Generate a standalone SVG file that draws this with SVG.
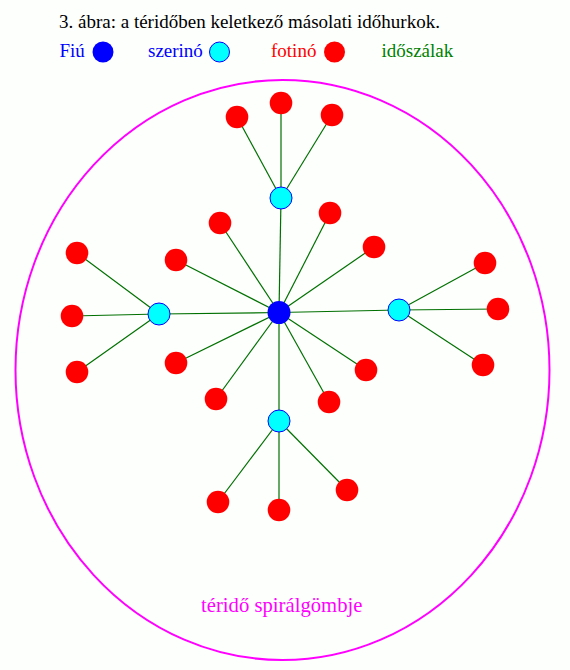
<svg xmlns="http://www.w3.org/2000/svg" width="570" height="670" viewBox="0 0 570 670">
<style>
.t{font-family:'Liberation Serif','Times New Roman','DejaVu Serif',serif;font-size:19px}
.red{fill:#ff0000}
.cyan{fill:#00ffff;stroke:#0000ff;stroke-width:1}
.blue{fill:#0000ff}
#connectors line{stroke:#007000;stroke-width:1.2}
</style>
<rect width="570" height="670" fill="#fdfffd"/>
<text class="t" x="59" y="28" fill="#000">3. ábra: a téridőben keletkező másolati időhurkok.</text>
<g id="legend">
<text class="t" x="59.5" y="57" fill="#0000ff">Fiú</text>
<circle cx="103" cy="52" r="10.5" class="blue"/>
<text class="t" x="148" y="57" fill="#0000ff">szerinó</text>
<circle cx="219.5" cy="52" r="10" class="cyan"/>
<text class="t" x="271" y="57" fill="#ff0000">fotinó</text>
<circle cx="334.5" cy="52" r="10.5" class="red"/>
<text class="t" x="381.5" y="57" fill="#008000">időszálak</text>
</g>
<g id="sphere">
<ellipse cx="282.5" cy="370" rx="267" ry="290" fill="none" stroke="#ff00ff" stroke-width="2"/>
<text class="t" x="201" y="612" fill="#ff00ff" style="font-size:20.7px">téridő spirálgömbje</text>
</g>
<g id="connectors">
<line x1="279" y1="312.5" x2="281" y2="198"/>
<line x1="279" y1="312.5" x2="159" y2="314"/>
<line x1="279" y1="312.5" x2="399" y2="310"/>
<line x1="279" y1="312.5" x2="279" y2="421"/>
<line x1="279" y1="312.5" x2="220" y2="223"/>
<line x1="279" y1="312.5" x2="176" y2="260"/>
<line x1="279" y1="312.5" x2="176" y2="363"/>
<line x1="279" y1="312.5" x2="216" y2="399"/>
<line x1="279" y1="312.5" x2="330" y2="213"/>
<line x1="279" y1="312.5" x2="374" y2="247"/>
<line x1="279" y1="312.5" x2="366" y2="370"/>
<line x1="279" y1="312.5" x2="329" y2="402"/>
<line x1="281" y1="198" x2="237" y2="117"/>
<line x1="281" y1="198" x2="281" y2="103"/>
<line x1="281" y1="198" x2="332" y2="115"/>
<line x1="159" y1="314" x2="77" y2="253"/>
<line x1="159" y1="314" x2="72" y2="316"/>
<line x1="159" y1="314" x2="77" y2="372"/>
<line x1="399" y1="310" x2="485" y2="263"/>
<line x1="399" y1="310" x2="498" y2="309"/>
<line x1="399" y1="310" x2="483" y2="365"/>
<line x1="279" y1="421" x2="218" y2="502"/>
<line x1="279" y1="421" x2="279" y2="510"/>
<line x1="279" y1="421" x2="347" y2="490"/>
</g>
<g id="fiu"><circle cx="279" cy="312.5" r="11.5" class="blue"/></g>
<g id="szerino-top"><circle cx="281" cy="198" r="11" class="cyan"/></g>
<g id="szerino-left"><circle cx="159" cy="314" r="11" class="cyan"/></g>
<g id="szerino-right"><circle cx="399" cy="310" r="11" class="cyan"/></g>
<g id="szerino-bottom"><circle cx="279" cy="421" r="11" class="cyan"/></g>
<g id="fotino-1"><circle cx="237" cy="117" r="11.3" class="red"/></g>
<g id="fotino-2"><circle cx="281" cy="103" r="11.3" class="red"/></g>
<g id="fotino-3"><circle cx="332" cy="115" r="11.3" class="red"/></g>
<g id="fotino-4"><circle cx="77" cy="253" r="11.3" class="red"/></g>
<g id="fotino-5"><circle cx="72" cy="316" r="11.3" class="red"/></g>
<g id="fotino-6"><circle cx="77" cy="372" r="11.3" class="red"/></g>
<g id="fotino-7"><circle cx="485" cy="263" r="11.3" class="red"/></g>
<g id="fotino-8"><circle cx="498" cy="309" r="11.3" class="red"/></g>
<g id="fotino-9"><circle cx="483" cy="365" r="11.3" class="red"/></g>
<g id="fotino-10"><circle cx="218" cy="502" r="11.3" class="red"/></g>
<g id="fotino-11"><circle cx="279" cy="510" r="11.3" class="red"/></g>
<g id="fotino-12"><circle cx="347" cy="490" r="11.3" class="red"/></g>
<g id="fotino-13"><circle cx="220" cy="223" r="11.3" class="red"/></g>
<g id="fotino-14"><circle cx="176" cy="260" r="11.3" class="red"/></g>
<g id="fotino-15"><circle cx="176" cy="363" r="11.3" class="red"/></g>
<g id="fotino-16"><circle cx="216" cy="399" r="11.3" class="red"/></g>
<g id="fotino-17"><circle cx="330" cy="213" r="11.3" class="red"/></g>
<g id="fotino-18"><circle cx="374" cy="247" r="11.3" class="red"/></g>
<g id="fotino-19"><circle cx="366" cy="370" r="11.3" class="red"/></g>
<g id="fotino-20"><circle cx="329" cy="402" r="11.3" class="red"/></g>
</svg>
